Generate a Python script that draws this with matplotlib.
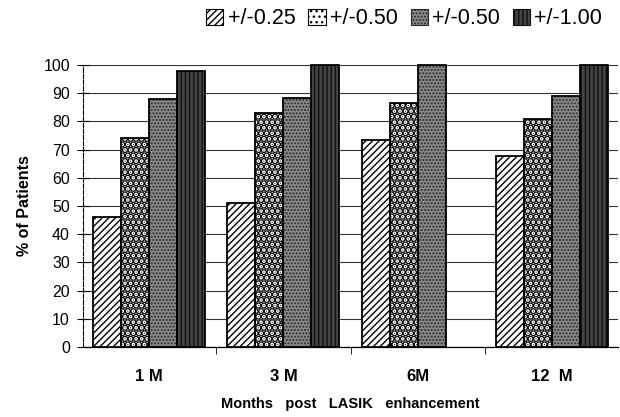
import matplotlib.pyplot as plt
import numpy as np

plt.rcParams['font.family'] = ['Liberation Sans', 'DejaVu Sans']

# % of patients within each refraction range, per follow-up visit
months = ['1 M', '3 M', '6M', '12  M']
within_025 = [46, 51, 73.5, 67.7]
within_050a = [74, 83, 86.5, 81]
within_050b = [88, 88.3, 100, 89]
within_100 = [98, 100, np.nan, 100]
legend_labels = ['+/-0.25', '+/-0.50', '+/-0.50', '+/-1.00']

series = [within_025, within_050a, within_050b, within_100]
# face colour, hatch colour, hatch pattern, hatch line width
styles = [
    ('white', 'black', '/////', 1.0),
    ('white', 'black', '...', 3.5),
    ('#8a8a8a', '#2a2a2a', '.....', 1.0),
    ('#444444', '#111111', '||||', 1.0),
]

fig = plt.figure(figsize=(6.2, 4.17), dpi=100)
ax = fig.add_axes([0.134, 0.168, 0.863, 0.676])

x = np.arange(len(months))
w = 0.208
handles = []
for i, (vals, (fc, hc, hatch, hlw)) in enumerate(zip(series, styles)):
    pos = x + (i - 1.5) * w
    bars = ax.bar(pos, vals, w, color=fc, edgecolor=hc, hatch=hatch,
                  linewidth=0, zorder=3, clip_on=False)
    for b in bars:
        if hasattr(b, 'set_hatch_linewidth'):
            b.set_hatch_linewidth(hlw)
    ax.bar(pos, vals, w, fill=False, edgecolor='black', linewidth=1.3,
           zorder=4, clip_on=False)
    h = plt.Rectangle((0, 0), 1, 1, facecolor=fc, edgecolor=hc,
                      hatch=hatch, linewidth=0.8)
    if hasattr(h, 'set_hatch_linewidth'):
        h.set_hatch_linewidth(hlw)
    handles.append(h)

ax.set_ylim(0, 100)
ax.set_xlim(-0.49, 3.49)
ax.set_yticks(range(0, 101, 10))
ax.set_xticks(x)
ax.set_xticklabels(months, fontsize=12, fontweight='bold')
ax.set_xticks([0.5, 1.5, 2.5], minor=True)
ax.tick_params(axis='x', which='major', length=0, pad=16)
ax.tick_params(axis='x', which='minor', length=5, direction='out')
ax.tick_params(axis='y', labelsize=11.5, direction='inout', length=9, pad=5)

ax.yaxis.grid(True, color='#333333', linewidth=0.8, zorder=0)
for s in ['top', 'right']:
    ax.spines[s].set_visible(False)
ax.spines['left'].set_linestyle((0, (4, 1.5)))
ax.spines['left'].set_linewidth(0.8)
ax.spines['bottom'].set_linewidth(0.9)

ax.set_ylabel('% of Patients', fontsize=11.5, fontweight='bold', labelpad=8)
ax.set_xlabel('Months   post   LASIK   enhancement', fontsize=10.5,
              fontweight='bold', labelpad=9)

fig.legend(handles, legend_labels, loc='center', bbox_to_anchor=(0.652, 0.955),
           ncol=4, frameon=False, fontsize=15.5, handlelength=0.8,
           handleheight=0.8, handletextpad=0.2, columnspacing=0.6)

fig.savefig('out.png', dpi=100)
